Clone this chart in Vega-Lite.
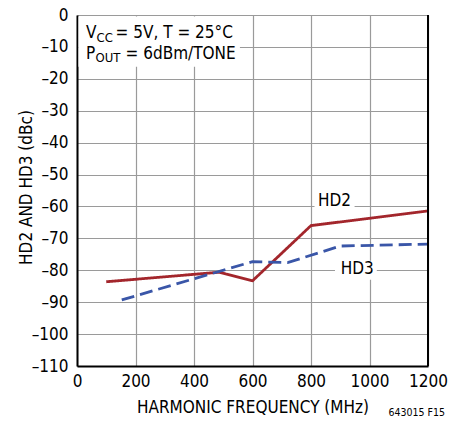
{
  "$schema": "https://vega.github.io/schema/vega-lite/v6.json",
  "width": 351,
  "height": 351,
  "autosize": "none",
  "padding": {"left": 77, "top": 15, "right": 22, "bottom": 61},
  "config": {
    "view": {"stroke": null},
    "font": "DejaVu Sans Condensed, Liberation Sans, sans-serif"
  },
  "datasets": {
    "curves": [
      {"series": "HD2", "freq": 100, "dbc": -83.6},
      {"series": "HD2", "freq": 487, "dbc": -80.6},
      {"series": "HD2", "freq": 600, "dbc": -83.3},
      {"series": "HD2", "freq": 800, "dbc": -66.0},
      {"series": "HD2", "freq": 1200, "dbc": -61.4},
      {"series": "HD3", "freq": 153, "dbc": -89.3},
      {"series": "HD3", "freq": 600, "dbc": -77.3},
      {"series": "HD3", "freq": 720, "dbc": -77.6},
      {"series": "HD3", "freq": 900, "dbc": -72.4},
      {"series": "HD3", "freq": 1200, "dbc": -71.8}
    ],
    "boxes": [
      {"x1": 5, "x2": 557, "y1": -0.5, "y2": -16.2},
      {"x1": 812, "x2": 949, "y1": -55, "y2": -61.5},
      {"x1": 882, "x2": 1025, "y1": -77, "y2": -83}
    ],
    "labels": [
      {"text": "V", "x": 31, "y": -7.3, "size": 17},
      {"text": "CC", "x": 67, "y": -8.4, "size": 13},
      {"text": "= 5V, T = 25°C", "x": 132, "y": -7.3, "size": 17},
      {"text": "P", "x": 31, "y": -13.9, "size": 17},
      {"text": "OUT", "x": 63, "y": -14.8, "size": 13},
      {"text": "= 6dBm/TONE", "x": 166, "y": -13.9, "size": 17}
    ],
    "tags": [
      {"text": "HD2", "x": 880, "y": -59.9},
      {"text": "HD3", "x": 958, "y": -81.3}
    ]
  },
  "layer": [
    {
      "data": {"name": "boxes"},
      "mark": {"type": "rect", "fill": "white", "stroke": null},
      "encoding": {
        "x": {"field": "x1", "type": "quantitative"},
        "x2": {"field": "x2"},
        "y": {"field": "y1", "type": "quantitative"},
        "y2": {"field": "y2"}
      }
    },
    {
      "data": {"name": "curves"},
      "mark": {"type": "line", "strokeWidth": 2.8},
      "encoding": {
        "x": {"field": "freq", "type": "quantitative", "scale": {"domain": [0, 1200], "nice": false},
          "axis": {"values": [0, 200, 400, 600, 800, 1000, 1200], "tickCount": 7, "format": "d", "title": "HARMONIC FREQUENCY (MHz)",
            "grid": true, "gridColor": "#9a9a9a", "gridWidth": 1.2, "domainColor": "black", "domainWidth": 2,
            "ticks": false, "labelFlush": false, "labelOverlap": false, "labelFontSize": 17, "labelColor": "black", "labelPadding": 7,
            "titleFontSize": 17, "titleFontWeight": "normal", "titleColor": "black", "titlePadding": 10}},
        "y": {"field": "dbc", "type": "quantitative", "scale": {"domain": [-110, 0], "nice": false},
          "axis": {"values": [-110, -100, -90, -80, -70, -60, -50, -40, -30, -20, -10, 0], "tickCount": 12, "format": "d",
            "labelExpr": "replace(datum.label, '−', '–')", "title": "HD2 AND HD3 (dBc)",
            "grid": true, "gridColor": "#9a9a9a", "gridWidth": 1.2, "domainColor": "black", "domainWidth": 2,
            "ticks": false, "labelOverlap": false, "labelFontSize": 17, "labelColor": "black", "labelPadding": 9, "labelBaseline": "middle",
            "titleFontSize": 17, "titleFontWeight": "normal", "titleColor": "black", "titleX": -46, "titleY": 172, "titleBaseline": "alphabetic", "titleAngle": 270}},
        "color": {"field": "series", "type": "nominal", "scale": {"domain": ["HD2", "HD3"], "range": ["#a3262c", "#3a56a8"]}, "legend": null},
        "strokeDash": {"field": "series", "type": "nominal", "scale": {"domain": ["HD2", "HD3"], "range": [[1, 0], [13, 6]]}, "legend": null}
      }
    },
    {
      "data": {"values": [{"x": 1200}]},
      "mark": {"type": "rule", "color": "black", "strokeWidth": 2},
      "encoding": {"x": {"field": "x", "type": "quantitative"}}
    },
    {
      "data": {"name": "labels"},
      "mark": {"type": "text", "align": "left", "baseline": "alphabetic", "color": "black"},
      "encoding": {
        "x": {"field": "x", "type": "quantitative"},
        "y": {"field": "y", "type": "quantitative"},
        "text": {"field": "text"},
        "size": {"field": "size", "type": "quantitative", "scale": null}
      }
    },
    {
      "data": {"name": "tags"},
      "mark": {"type": "text", "align": "center", "baseline": "alphabetic", "color": "black", "fontSize": 17},
      "encoding": {
        "x": {"field": "x", "type": "quantitative"},
        "y": {"field": "y", "type": "quantitative"},
        "text": {"field": "text"}
      }
    },
    {
      "data": {"values": [{"x": 1200, "y": -110, "text": "643015 F15"}]},
      "mark": {"type": "text", "align": "right", "baseline": "alphabetic", "color": "black", "fontSize": 10.5, "dx": 17, "dy": 50, "clip": false},
      "encoding": {
        "x": {"field": "x", "type": "quantitative"},
        "y": {"field": "y", "type": "quantitative"},
        "text": {"field": "text"}
      }
    }
  ]
}
